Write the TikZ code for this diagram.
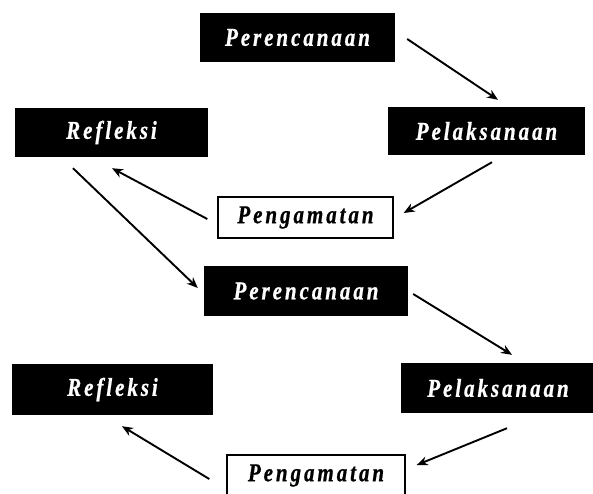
\documentclass[tikz,border=0pt]{standalone}
\usepackage{fontspec}
\usepackage{graphicx}
\setmainfont{Liberation Serif}
\newfontfamily\boxfont[LetterSpace=14,FakeBold=0.8]{Liberation Serif}
\newcommand\talltext[1]{\scalebox{1}[1.22]{#1}}
\usetikzlibrary{arrows.meta,calc}
\begin{document}
\begin{tikzpicture}[x=1pt,y=-1pt,
  boxtext/.style={font=\boxfont\bfseries\itshape\fontsize{21}{25}\selectfont, inner sep=0pt},
  blk/.style={boxtext, fill=black, text=white},
  wht/.style={boxtext, draw=black, line width=1.4pt, fill=white, text=black},
  arr/.style={-{Stealth[length=11pt,width=9pt]}, line width=1.9pt}]
\useasboundingbox (0,0) rectangle (593,493);
\clip (0,0) rectangle (593,493);
\fill[white] (0,0) rectangle (593,493);

\node[blk, minimum width=195pt, minimum height=49pt] (per1) at (297.5,37.5) {\talltext{Perencanaan}};
\node[blk, minimum width=193pt, minimum height=49pt] (ref1) at (111.5,132.5) {\talltext{Refleksi}};
\node[blk, minimum width=197pt, minimum height=48pt] (pel1) at (486.5,131) {\talltext{Pelaksanaan}};
\node[wht, minimum width=175pt, minimum height=41pt] (pen1) at (305.5,217.5) {\talltext{Pengamatan}};
\node[blk, minimum width=204pt, minimum height=50pt] (per2) at (306,291) {\talltext{Perencanaan}};
\node[blk, minimum width=201pt, minimum height=51pt] (ref2) at (112.5,389.5) {\talltext{Refleksi}};
\node[blk, minimum width=194pt, minimum height=50pt] (pel2) at (498,388) {\talltext{Pelaksanaan}};
\node[wht, minimum width=178pt, minimum height=41pt] (pen2) at (316,475.5) {\talltext{Pengamatan}};

\draw[arr] ($(per1.east)+(12,1.5)$) -- ($(pel1.north)+(11.5,-7)$);
\draw[arr] ($(pel1.south)+(5.5,7)$) -- ($(pen1.east)+(10,-4.5)$);
\draw[arr] ($(pen1.west)+(-10,1.5)$) -- ($(ref1.south)+(0.5,11)$);
\draw[arr] ($(ref1.south)+(-38.5,11)$) -- ($(per2.west)+(-6,-3)$);
\draw[arr] ($(per2.east)+(5,3)$) -- ($(pel2.north)+(14,-8)$);
\draw[arr] ($(pel2.south)+(9,15)$) -- ($(pen2.east)+(11,-10.5)$);
\draw[arr] ($(pen2.west)+(-17,3.5)$) -- ($(ref2.south)+(9.5,11)$);
\end{tikzpicture}
\end{document}
